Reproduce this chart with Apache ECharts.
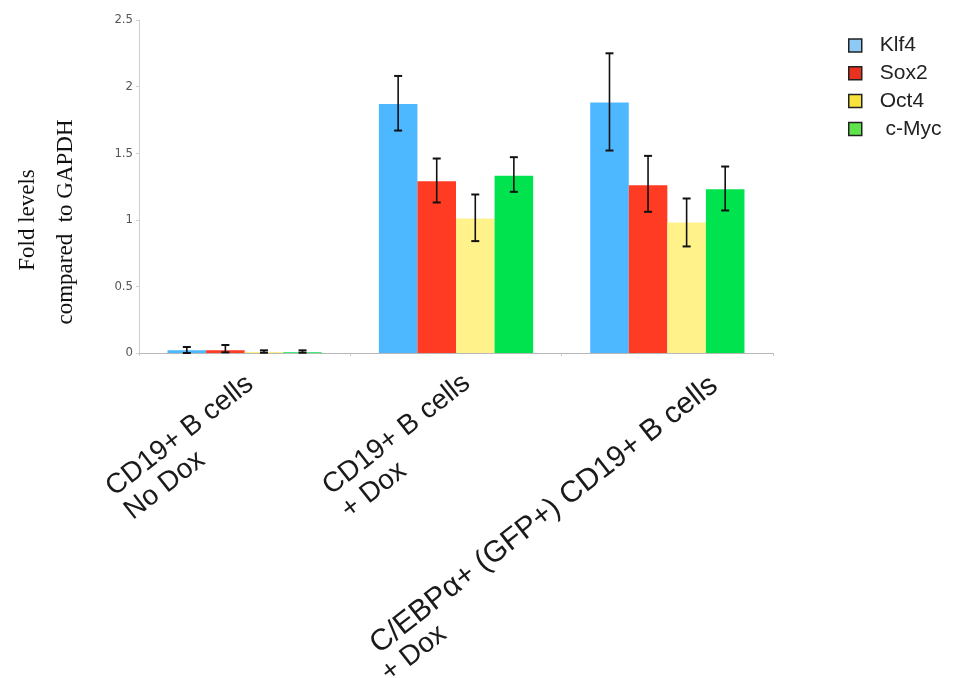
<!DOCTYPE html>
<html>
<head>
<meta charset="utf-8">
<script src="https://cdn.jsdelivr.net/npm/echarts@6/dist/echarts.min.js"></script>
<style>html,body{margin:0;padding:0;background:#fff;}#c{width:962px;height:678px;}</style>
</head>
<body>
<div id="c"></div>
<script>
const categories = ['CD19+ B cells\nNo Dox', 'CD19+ B cells\n+ Dox', 'C/EBPα+ (GFP+) CD19+ B cells\n+ Dox'];
const genes = ['Klf4', 'Sox2', 'Oct4', ' c-Myc'];
const klf4 = [0.02, 1.87, 1.88];
const klf4Low = [0.0, 1.67, 1.52];
const klf4High = [0.045, 2.08, 2.25];
const sox2 = [0.02, 1.29, 1.26];
const sox2Low = [0.005, 1.13, 1.06];
const sox2High = [0.06, 1.46, 1.48];
const oct4 = [0.008, 1.01, 0.98];
const oct4Low = [0.002, 0.84, 0.80];
const oct4High = [0.02, 1.19, 1.16];
const cmyc = [0.006, 1.33, 1.23];
const cmycLow = [0.002, 1.21, 1.07];
const cmycHigh = [0.02, 1.47, 1.40];
const yTicks = [0, 0.5, 1, 1.5, 2, 2.5];

const values = [klf4, sox2, oct4, cmyc];
const lows = [klf4Low, sox2Low, oct4Low, cmycLow];
const highs = [klf4High, sox2High, oct4High, cmycHigh];
const barColors = ['#4db8ff', '#ff3b24', '#fff28a', '#00e34f'];
const legendColors = ['#8ec8f4', '#e8321f', '#f8e23c', '#5ee34a'];
const CAT_GAP = 0.27;
const labelPads = [[60, 5, 0, 0], [65, 0, 0, 0], [114, -27, 0, 0]];
const labelStyles = [['a', 'a'], ['a', 'a'], ['b', 'c']];
const FONT = 'Liberation Sans, Arial, sans-serif';
const SERIF = 'Liberation Serif, Times New Roman, serif';

const chart = echarts.init(document.getElementById('c'), null, {renderer: 'canvas'});

const series = [];
genes.forEach((g, i) => {
  series.push({
    name: g, type: 'bar', data: values[i], barGap: '0%', barCategoryGap: (CAT_GAP * 100) + '%',
    itemStyle: {color: barColors[i]}, silent: true, animation: false
  });
});
genes.forEach((g, i) => {
  series.push({
    name: g, type: 'custom', animation: false, silent: true, z: 5,
    data: categories.map((c, k) => [k, lows[i][k], highs[i][k]]),
    renderItem: function (params, api) {
      const k = api.value(0);
      const lo = api.coord([k, api.value(1)]);
      const hi = api.coord([k, api.value(2)]);
      const band = api.size([1, 0])[0];
      const groupW = band * (1 - CAT_GAP);
      const bw = groupW / genes.length;
      const x = lo[0] - groupW / 2 + bw * (i + 0.5);
      const cap = 4;
      return {
        type: 'group', children: [
          {type: 'line', shape: {x1: x, y1: lo[1], x2: x, y2: hi[1]}, style: {stroke: '#111', lineWidth: 1.6}},
          {type: 'line', shape: {x1: x - cap, y1: lo[1], x2: x + cap, y2: lo[1]}, style: {stroke: '#111', lineWidth: 2}},
          {type: 'line', shape: {x1: x - cap, y1: hi[1], x2: x + cap, y2: hi[1]}, style: {stroke: '#111', lineWidth: 2}}
        ]
      };
    }
  });
});

chart.setOption({
  backgroundColor: '#fff',
  animation: false,
  grid: {left: 139, right: 189, top: 20, bottom: 325, outerBoundsMode: 'none', containLabel: false},
  legend: {
    orient: 'vertical', left: 843, top: 30, itemWidth: 13, itemHeight: 13, itemGap: 6.8,
    selectedMode: false,
    textStyle: {fontFamily: FONT, fontSize: 21, color: '#222', lineHeight: 20, padding: [0, 0, 0, 13]},
    data: genes.map((g, i) => ({name: g, icon: 'rect', itemStyle: {color: legendColors[i], borderColor: '#222', borderWidth: 1.5}}))
  },
  xAxis: {
    type: 'category',
    data: categories.map((c, k) => ({value: c, textStyle: {padding: labelPads[k]}})),
    axisLine: {lineStyle: {color: '#b8b8b8', width: 1}},
    axisTick: {show: true, length: 3, lineStyle: {color: '#c8c8c8'}},
    axisLabel: {
      interval: 0, rotate: 38, margin: 13,
      fontFamily: FONT, fontSize: 28, color: '#1a1a1a',
      formatter: function (v, idx) {
        const st = labelStyles[idx];
        return v.split('\n').map((line, j) => '{' + st[j] + '|' + line + '}').join('\n');
      },
      rich: {
        a: {align: 'left', lineHeight: 30, fontSize: 28, color: '#1a1a1a', fontFamily: FONT},
        b: {align: 'left', lineHeight: 31, fontSize: 30, color: '#1a1a1a', fontFamily: FONT},
        c: {align: 'left', lineHeight: 31, fontSize: 28, color: '#1a1a1a', fontFamily: FONT, padding: [0, 0, 4, -9]}
      }
    }
  },
  yAxis: {
    type: 'value', min: yTicks[0], max: yTicks[yTicks.length - 1], interval: 0.5,
    axisLine: {show: true, lineStyle: {color: '#cfcfcf'}},
    axisTick: {show: true, length: 3, lineStyle: {color: '#cfcfcf'}},
    splitLine: {show: false},
    axisLabel: {margin: 6, fontFamily: 'DejaVu Sans Condensed, DejaVu Sans, sans-serif', fontSize: 13, color: '#555'}
  },
  graphic: [
    {type: 'text', x: 28, y: 220, rotation: Math.PI / 2, style: {text: 'Fold levels', fontFamily: SERIF, fontSize: 23, fill: '#111', align: 'center', verticalAlign: 'middle'}},
    {type: 'text', x: 66, y: 222, rotation: Math.PI / 2, style: {text: 'compared  to GAPDH', fontFamily: SERIF, fontSize: 23, fill: '#111', align: 'center', verticalAlign: 'middle'}}
  ],
  series: series
});
</script>
</body>
</html>
